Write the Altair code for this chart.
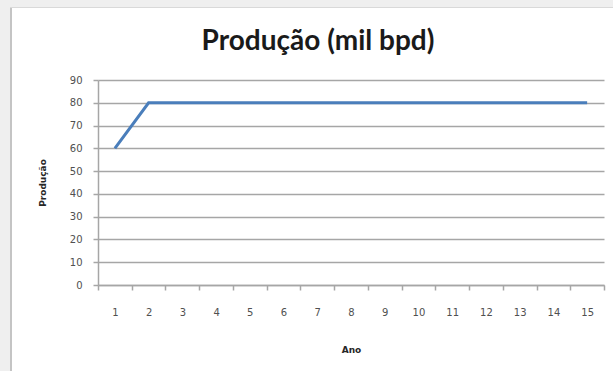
import altair as alt
import pandas as pd

# Annual production series (thousand barrels per day)
anos = list(range(1, 16))
producao = [60, 80, 80, 80, 80, 80, 80, 80, 80, 80, 80, 80, 80, 80, 80]
y_ticks = [0, 10, 20, 30, 40, 50, 60, 70, 80, 90]
x_ticks = [a - 0.5 for a in anos] + [15.5] + anos

df = pd.DataFrame({"Ano": anos, "Produção": producao})

W, H = 506, 205
PAD_L, PAD_T = 98, 80

label_color = "#505050"
grid_color = "#a6a6a6"

x_enc = alt.X(
    "Ano:Q",
    scale=alt.Scale(domain=[0.5, 15.5], nice=False, zero=False),
    axis=alt.Axis(
        title="Ano",
        values=x_ticks,
        labelExpr="datum.value % 1 == 0 ? '' + datum.value : ''",
        tickOpacity=alt.expr("datum.value % 1 == 0 ? 0 : 1"),
        tickSize=5,
        tickColor=grid_color,
        tickWidth=1.5,
        domainColor=grid_color,
        domainWidth=1.5,
        grid=False,
        labelFont="DejaVu Sans",
        labelFontSize=10,
        labelColor=label_color,
        labelPadding=17,
        labelFlush=False,
        titleFont="DejaVu Sans",
        titleFontSize=9,
        titleFontWeight="bold",
        titleColor="#262626",
        titlePadding=28,
    ),
)

y_enc = alt.Y(
    "Produção:Q",
    scale=alt.Scale(domain=[0, 90], nice=False),
    axis=alt.Axis(
        title="Produção",
        values=y_ticks,
        tickSize=5,
        tickColor=grid_color,
        tickWidth=1.5,
        domainColor=grid_color,
        domainWidth=1.5,
        grid=True,
        gridColor=grid_color,
        gridWidth=1.5,
        labelFont="DejaVu Sans",
        labelFontSize=10,
        labelColor=label_color,
        labelPadding=11,
        titleFont="DejaVu Sans",
        titleFontSize=9,
        titleFontWeight="bold",
        titleColor="#262626",
        titlePadding=22,
    ),
)

line = alt.Chart(df).mark_line(color="#4a7ebb", strokeWidth=3, strokeCap="butt").encode(
    x=x_enc, y=y_enc
)

# Grey window frame around the chart box (left and top strips plus edge lines)
frame_data = alt.Data(values=[{}])
left_strip = alt.Chart(frame_data).mark_rect(color="#efefef").encode(
    x=alt.value(-PAD_L), x2=alt.value(-PAD_L + 10),
    y=alt.value(-PAD_T), y2=alt.value(371 - PAD_T),
)
left_edge = alt.Chart(frame_data).mark_rect(color="#c4c4c4").encode(
    x=alt.value(-PAD_L + 10), x2=alt.value(-PAD_L + 12),
    y=alt.value(-PAD_T + 7), y2=alt.value(371 - PAD_T),
)
top_strip = alt.Chart(frame_data).mark_rect(color="#efefef").encode(
    x=alt.value(-PAD_L), x2=alt.value(613 - PAD_L),
    y=alt.value(-PAD_T), y2=alt.value(-PAD_T + 7),
)
top_edge = alt.Chart(frame_data).mark_rect(color="#d9d9d9").encode(
    x=alt.value(-PAD_L + 10), x2=alt.value(613 - PAD_L),
    y=alt.value(-PAD_T + 7), y2=alt.value(-PAD_T + 8),
)

chart = (
    alt.layer(left_strip, left_edge, top_strip, top_edge, line)
    .properties(
        width=W,
        height=H,
        autosize=alt.AutoSizeParams(type="none"),
        padding={"left": PAD_L, "top": PAD_T, "right": 613 - PAD_L - W, "bottom": 371 - PAD_T - H},
        background="white",
        title=alt.TitleParams(
            "Produção (mil bpd)",
            font="Lato",
            fontSize=28,
            fontWeight="bold",
            color="#1a1a1a",
            anchor="middle",
            baseline="alphabetic",
            dx=-33,
            dy=78,
            offset=0,
        ),
    )
    .configure_view(stroke=None)
)

chart.save("out.html", embed_options={"renderer": "svg", "actions": False})
